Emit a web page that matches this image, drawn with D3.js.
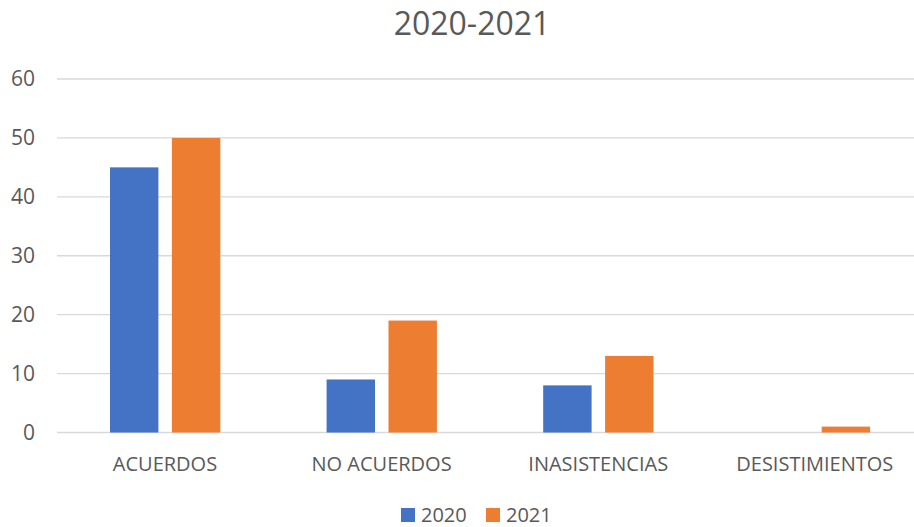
<!DOCTYPE html>
<html>
<head>
  <meta charset="utf-8">
  <title>2020-2021</title>
  <script src="https://cdn.jsdelivr.net/npm/d3@7"></script>
  <style>
    body { margin: 0; background: #fff; }
    text { font-family: "Open Sans", sans-serif; fill: #595959; }
  </style>
</head>
<body>
<script>
  // data
  var categories = ["ACUERDOS", "NO ACUERDOS", "INASISTENCIAS", "DESISTIMIENTOS"];
  var series = ["2020", "2021"];
  var values2020 = [45, 9, 8, 0];
  var values2021 = [50, 19, 13, 1];
  var yTicks = [0, 10, 20, 30, 40, 50, 60];
  var colors = ["#4472C4", "#ED7D31"];

  var width = 914, height = 527;

  var svg = d3.select("body").append("svg")
      .attr("width", width)
      .attr("height", height);

  var x0 = d3.scaleBand()
      .domain(categories)
      .range([56.7, 923.1]);

  var x1 = d3.scaleBand()
      .domain(series)
      .range([53.3, 163.6])
      .paddingInner(0.218);

  var y = d3.scaleLinear()
      .domain([0, 60])
      .range([432.5, 79]);

  // title
  svg.append("text")
      .attr("x", 472)
      .attr("y", 35)
      .attr("text-anchor", "middle")
      .style("font-size", "32px")
      .text("2020-2021");

  // gridlines
  svg.append("g")
    .selectAll("line")
    .data(yTicks)
    .enter().append("line")
      .attr("x1", 57)
      .attr("x2", width)
      .attr("y1", function(d) { return y(d); })
      .attr("y2", function(d) { return y(d); })
      .attr("stroke", "#D9D9D9")
      .attr("stroke-width", 1.3);

  // y labels
  var yAxis = svg.append("g")
      .attr("transform", "translate(46,0)")
      .call(d3.axisLeft(y).tickValues(yTicks).tickSize(0).tickPadding(11));
  yAxis.select(".domain").remove();
  yAxis.selectAll("text")
      .style("font-size", "21px")
      .style("font-family", "'Open Sans', sans-serif")
      .attr("fill", "#595959");

  // bars
  var rows = categories.map(function(c, i) {
    return { cat: c, vals: [values2020[i], values2021[i]] };
  });

  var group = svg.selectAll(".cat")
    .data(rows)
    .enter().append("g")
      .attr("class", "cat")
      .attr("transform", function(d) { return "translate(" + x0(d.cat) + ",0)"; });

  group.selectAll("rect")
    .data(function(d) { return d.vals.map(function(v, j) { return { s: series[j], v: v, j: j }; }); })
    .enter().append("rect")
      .attr("x", function(d) { return x1(d.s); })
      .attr("width", x1.bandwidth())
      .attr("y", function(d) { return y(d.v); })
      .attr("height", function(d) { return y(0) - y(d.v); })
      .attr("fill", function(d) { return colors[d.j]; });

  // x labels
  svg.append("g")
    .selectAll("text")
    .data(categories)
    .enter().append("text")
      .attr("x", function(d) { return x0(d) + x0.bandwidth() / 2; })
      .attr("y", 471)
      .attr("text-anchor", "middle")
      .style("font-size", "20px")
      .text(function(d) { return d; });

  // legend
  var legendX = [401, 486];
  var legend = svg.selectAll(".legend")
    .data(series)
    .enter().append("g")
      .attr("class", "legend")
      .attr("transform", function(d, i) { return "translate(" + legendX[i] + ",508)"; });

  legend.append("rect")
      .attr("width", 14)
      .attr("height", 14)
      .attr("fill", function(d, i) { return colors[i]; });

  legend.append("text")
      .attr("x", 20)
      .attr("y", 13.5)
      .style("font-size", "20px")
      .text(function(d) { return d; });
</script>
</body>
</html>
